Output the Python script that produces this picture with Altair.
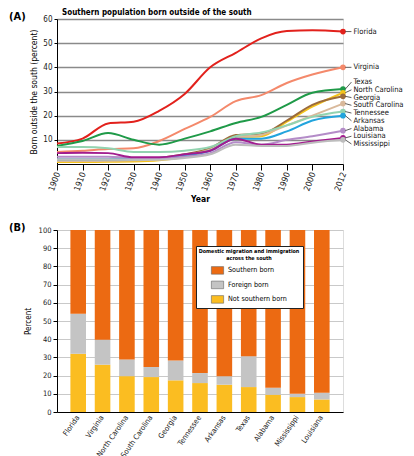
import altair as alt
import pandas as pd

FONT = "DejaVu Sans Condensed, Liberation Sans Narrow, sans-serif"

# ---------------- Panel A data ----------------
years = [1900, 1910, 1920, 1930, 1940, 1950, 1960, 1970, 1980, 1990, 2000, 2012]
states_a = ["Florida", "Virginia", "Texas", "North Carolina", "Georgia",
            "South Carolina", "Tennessee", "Arkansas", "Alabama", "Louisiana",
            "Mississippi"]
florida = [8.5, 10.5, 16.8, 17.5, 22.0, 29.0, 40.0, 46.0, 52.0, 55.0, 55.3, 54.8]
virginia = [5.0, 5.5, 6.2, 6.5, 9.5, 14.5, 19.5, 26.0, 28.5, 33.5, 37.0, 40.0]
texas = [7.5, 9.5, 12.8, 10.0, 8.0, 10.5, 13.5, 17.0, 19.5, 24.5, 29.5, 31.0]
north_carolina = [0.8, 0.8, 0.9, 1.0, 1.5, 3.0, 6.0, 11.0, 11.5, 17.5, 23.7, 29.5]
georgia = [1.5, 1.5, 1.8, 2.0, 2.5, 4.0, 6.5, 12.0, 12.5, 18.0, 24.5, 28.0]
south_carolina = [1.2, 1.2, 1.3, 1.5, 2.0, 3.5, 6.0, 11.0, 12.0, 16.0, 20.0, 25.0]
tennessee = [7.0, 7.0, 6.5, 5.0, 5.0, 5.5, 7.0, 11.5, 13.0, 16.0, 19.5, 21.7]
arkansas = [2.0, 2.0, 2.0, 2.0, 2.5, 3.5, 5.5, 10.5, 10.5, 13.5, 18.0, 20.0]
alabama = [3.0, 3.0, 3.0, 2.5, 2.5, 3.0, 4.5, 9.0, 8.0, 10.0, 11.5, 13.8]
louisiana = [4.5, 4.7, 4.5, 2.8, 2.8, 4.0, 5.5, 10.5, 8.0, 8.0, 9.3, 10.8]
mississippi = [2.0, 2.0, 2.0, 1.8, 1.8, 2.5, 4.0, 8.0, 7.5, 7.5, 8.8, 10.0]
series_a = [florida, virginia, texas, north_carolina, georgia, south_carolina,
            tennessee, arkansas, alabama, louisiana, mississippi]
colors_a = ["#e2211c", "#f4896b", "#1f9a48", "#f5c31c", "#9c6b3a", "#d9b99b",
            "#93d3b0", "#22a4dd", "#b48cc8", "#a21c8e", "#bdbdbd"]
y_ticks_a = [10, 20, 30, 40, 50, 60]
x_ticks_a = [1900, 1910, 1920, 1930, 1940, 1950, 1960, 1970, 1980, 1990, 2000, 2012]
title_a = "Southern population born outside of the south"

# ---------------- Panel B data ----------------
states_b = ["Florida", "Virginia", "North Carolina", "South Carolina", "Georgia",
            "Tennessee", "Arkansas", "Texas", "Alabama", "Mississippi", "Louisiana"]
not_southern = [32.0, 26.0, 19.7, 19.2, 17.4, 15.9, 15.0, 13.7, 9.5, 8.2, 6.9]
foreign = [22.0, 13.7, 9.2, 5.5, 10.9, 5.5, 4.7, 17.0, 3.8, 1.8, 3.7]
categories_b = ["Southern born", "Foreign born", "Not southern born"]
colors_b = ["#ec6a12", "#c4c4c4", "#fbbd21"]
y_ticks_b = [0, 10, 20, 30, 40, 50, 60, 70, 80, 90, 100]

# ---------------- Build tables ----------------
rows = []
for s, vals in zip(states_a, series_a):
    for y, v in zip(years, vals):
        rows.append({"state": s, "year": y, "value": v})
df_a = pd.DataFrame(rows)

ends = [vals[-1] for vals in series_a]


def dodge(values, gap):
    order = sorted(range(len(values)), key=lambda i: -values[i])
    clusters = []
    for i in order:
        clusters.append([i])
        while len(clusters) > 1:
            a, b = clusters[-2], clusters[-1]
            ca = sum(values[k] for k in a) / len(a)
            cb = sum(values[k] for k in b) / len(b)
            bottom_a = ca - gap * (len(a) - 1) / 2
            top_b = cb + gap * (len(b) - 1) / 2
            if bottom_a - top_b < gap:
                clusters[-2] = a + b
                clusters.pop()
            else:
                break
    pos = [0.0] * len(values)
    for c in clusters:
        m = sum(values[k] for k in c) / len(c)
        n = len(c)
        for j, k in enumerate(c):
            pos[k] = m + gap * ((n - 1) / 2 - j)
    return pos


label_pos = dodge(ends, 3.2)
df_end = pd.DataFrame({"state": states_a, "year": [years[-1]] * len(states_a),
                       "value": ends, "label_y": label_pos,
                       "x_from": [years[-1] + 0.9] * len(states_a),
                       "x_to": [years[-1] + 3.3] * len(states_a)})

rows_b = []
for s, ns, fb in zip(states_b, not_southern, foreign):
    rows_b.append({"state": s, "category": "Not southern born", "value": ns, "order": 0})
    rows_b.append({"state": s, "category": "Foreign born", "value": fb, "order": 1})
    rows_b.append({"state": s, "category": "Southern born", "value": 100 - ns - fb, "order": 2})
df_b = pd.DataFrame(rows_b)

W = 286

# ---------------- Panel A chart ----------------
color_a = alt.Color("state:N", scale=alt.Scale(domain=states_a, range=colors_a), legend=None)
sx_a = alt.Scale(domain=[1900, 2012], nice=False, zero=False)
sy_a = alt.Scale(domain=[0, 60], nice=False)
ax_x = alt.Axis(values=x_ticks_a, format="d", labelAngle=-70, labelAlign="right",
                labelBaseline="middle", labelFontSize=8.5, labelColor="#222",
                labelOverlap=False, tickCount=len(x_ticks_a),
                tickSize=6, tickColor="#000", domainColor="#000", grid=False,
                title="Year", titleFontWeight="bold", titleFontSize=8.5,
                titlePadding=3, labelPadding=2)
ax_y = alt.Axis(values=y_ticks_a, labelFontSize=8, labelColor="#222",
                labelOverlap=False, tickCount=len(y_ticks_a),
                tickSize=3, tickColor="#000", domainColor="#000",
                grid=True, gridColor="#8a8a8a", gridWidth=1.3,
                title="Born outside the south (percent)", titleFontSize=8.5,
                titleFontWeight="normal", titlePadding=4, labelPadding=2)

lines = alt.Chart(df_a).mark_line(interpolate="monotone", strokeWidth=2).encode(
    x=alt.X("year:Q", scale=sx_a, axis=ax_x),
    y=alt.Y("value:Q", scale=sy_a, axis=ax_y),
    color=color_a, order=alt.Order("year:Q"))
dots = alt.Chart(df_end).mark_circle(size=32, opacity=1).encode(
    x=alt.X("year:Q", scale=sx_a, axis=ax_x),
    y=alt.Y("value:Q", scale=sy_a, axis=ax_y),
    color=color_a)
leaders = alt.Chart(df_end).mark_rule(color="#333", strokeWidth=0.8).encode(
    x=alt.X("x_from:Q", scale=sx_a, axis=ax_x), x2="x_to:Q",
    y=alt.Y("value:Q", scale=sy_a, axis=ax_y), y2="label_y:Q")
labels = alt.Chart(df_end).mark_text(align="left", baseline="middle", dx=2,
                                     fontSize=7.6, font=FONT, color="#111").encode(
    x=alt.X("x_to:Q", scale=sx_a, axis=ax_x),
    y=alt.Y("label_y:Q", scale=sy_a, axis=ax_y), text="state:N")
tag_a = alt.Chart(pd.DataFrame({"t": ["(A)"]})).mark_text(
    align="left", baseline="middle", fontSize=11, fontWeight="bold", font=FONT).encode(
    x=alt.value(-48), y=alt.value(-2.5), text="t:N")
head_a = alt.Chart(pd.DataFrame({"t": [title_a]})).mark_text(
    align="left", baseline="middle", fontSize=8, fontWeight="bold", font=FONT).encode(
    x=alt.value(5), y=alt.value(-6.5), text="t:N")

chart_a = alt.layer(lines, dots, leaders, labels, tag_a, head_a).properties(
    width=W, height=145)

# ---------------- Panel B chart ----------------
bars = alt.Chart(df_b).mark_bar().encode(
    x=alt.X("state:N", sort=states_b,
            scale=alt.Scale(paddingInner=0.36, paddingOuter=0.55),
            axis=alt.Axis(labelAngle=-55, labelAlign="right", labelBaseline="middle",
                          labelFontSize=7.5, labelColor="#222", ticks=False,
                          labelOverlap=False,
                          domainColor="#000", title=None, labelPadding=4)),
    y=alt.Y("value:Q", stack="zero", scale=alt.Scale(domain=[0, 100], nice=False),
            axis=alt.Axis(values=y_ticks_b, labelFontSize=7.5, labelOverlap=False,
                          labelColor="#222", tickSize=4, tickColor="#000",
                          domainColor="#000", grid=True, gridColor="#c9c9c9",
                          gridWidth=1, title="Percent", titleFontSize=8,
                          titleFontWeight="normal", titlePadding=6, labelPadding=2)),
    color=alt.Color("category:N", scale=alt.Scale(domain=categories_b, range=colors_b),
                    legend=alt.Legend(
                        title=["Domestic migration and immigration", "across the south"],
                        titleFontSize=5.4, titleFontWeight="bold", titleAnchor="middle",
                        titleAlign="center", titleLineHeight=6.5,
                        labelFontSize=7.2, labelOffset=4,
                        symbolType="M-1,-0.62H1V0.62H-1Z", symbolSize=150,
                        symbolStrokeColor="#666", symbolStrokeWidth=0.6,
                        orient="none", legendX=139, legendY=16,
                        fillColor="#ffffff", strokeColor="#222", padding=3,
                        rowPadding=2.5, titlePadding=3)),
    order=alt.Order("order:Q"))
tag_b = alt.Chart(pd.DataFrame({"t": ["(B)"]})).mark_text(
    align="left", baseline="middle", fontSize=11, fontWeight="bold", font=FONT).encode(
    x=alt.value(-48), y=alt.value(-2), text="t:N")

chart_b = alt.layer(bars, tag_b).properties(width=W, height=182)

chart = alt.vconcat(chart_a, chart_b, spacing=17).resolve_scale(
    color="independent"
).properties(
    padding={"left": 0, "top": 0, "right": 0, "bottom": 0}
).configure_view(
    fill="#ececec", stroke=None
).configure(
    font=FONT
).configure_axis(
    labelFont=FONT, titleFont=FONT
).configure_legend(
    labelFont=FONT, titleFont=FONT
)

chart.save("out.html", embed_options={"renderer": "svg", "actions": False})
